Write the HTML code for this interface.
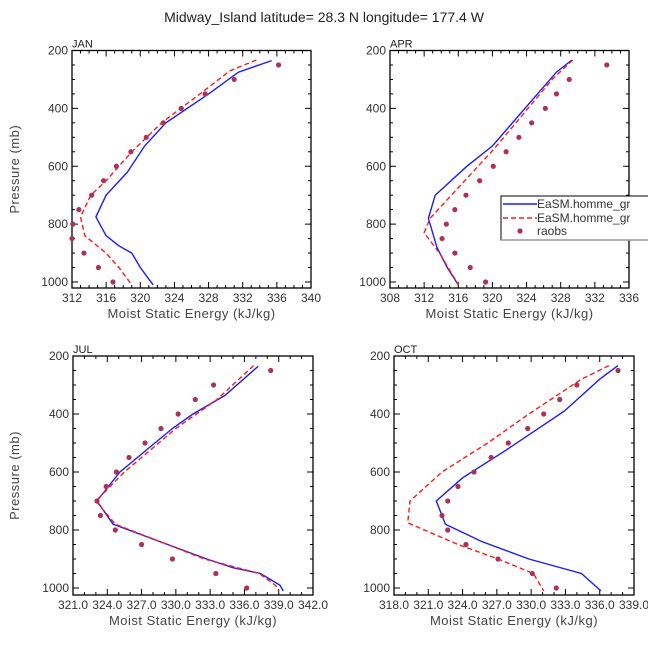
<!DOCTYPE html>
<html><head><meta charset="utf-8"><style>
body{margin:0;background:#fff;}
svg{display:block;font-family:"Liberation Sans",sans-serif;}
</style></head><body>
<svg id="chart" width="648" height="649" viewBox="0 0 648 649" xmlns="http://www.w3.org/2000/svg">
<text x="324" y="22" text-anchor="middle" font-size="14" fill="#222">Midway_Island  latitude= 28.3 N longitude= 177.4 W</text>
</svg>
<script>
const janBlueP=[235,275,350,450,530,620,700,775,840,875,900,950,1010];
const janBlueX=[335.4,331.5,328,323,320.5,318.5,316,314.8,316,317.5,319,320,321.5];
const janRedP=[233,270,350,450,550,650,700,775,840,900,950,1010];
const janRedX=[333.6,330.5,327,322.5,319,316,314.2,313,313.5,316,317.5,319];
const janObsP=[250,300,350,400,450,500,550,600,650,700,750,800,850,900,950,1000];
const janObsX=[336.2,331,327.6,324.8,322.7,320.7,318.9,317.2,315.7,314.3,312.8,312.1,312,313.4,315.1,316.8];
const aprBlueP=[233,275,380,530,600,700,780,880,950,1010];
const aprBlueX=[329.3,327.5,324.4,320,317,313.3,312.5,313.5,314.7,316];
const aprRedP=[233,300,540,780,830,900,970,1010];
const aprRedX=[329.4,327,320.2,312.7,312,313.8,315.2,316];
const aprObsP=[250,300,350,400,450,500,550,600,650,700,750,800,850,900,950,1000];
const aprObsX=[333.4,329,327.5,326.2,324.6,323.1,321.6,320.1,318.5,316.9,315.6,314.6,314.1,315.6,317.4,319.2];
const julBlueP=[236,336,400,450,600,700,780,900,930,950,990,1010];
const julBlueX=[337.2,334.3,331.5,329.7,325.1,323.1,324.5,332.7,335,337.4,339.1,339.4];
const julRedP=[233,350,450,600,700,780,900,950,990,1010];
const julRedX=[336.8,333.6,330,325.5,323,324.7,332.5,337.3,338.7,339];
const julObsP=[250,300,350,400,450,500,550,600,650,700,750,800,850,900,950,1000];
const julObsX=[338.3,333.3,331.7,330.2,328.7,327.3,325.9,324.8,323.9,323.1,323.4,324.7,327,329.7,333.5,336.2];
const octBlueP=[233,280,390,530,620,700,780,840,900,950,1010];
const octBlueX=[337.6,336,332.9,327.6,324,321.7,322.5,325.7,329.8,334.4,336.1];
const octRedP=[233,280,400,500,600,700,775,850,900,950,1010];
const octRedX=[336.8,334.4,329.8,326.2,322.2,319.4,319.2,323.6,327.1,330.2,331.1];
const octObsP=[250,300,350,400,450,500,550,600,650,700,750,800,850,900,950,1000];
const octObsX=[337.6,334,332.5,331.1,329.7,328,326.5,325,323.6,322.7,322.2,322.7,324.3,327.1,330.1,332.2];
const janTicks=["312","316","320","324","328","332","336","340"];
const aprTicks=["308","312","316","320","324","328","332","336"];
const julTicks=["321.0","324.0","327.0","330.0","333.0","336.0","339.0","342.0"];
const octTicks=["318.0","321.0","324.0","327.0","330.0","333.0","336.0","339.0"];
const pTicks=[200,400,600,800,1000];

const NS="http://www.w3.org/2000/svg";
const svg=document.getElementById('chart');
function mk(tag,attrs,parent){const e=document.createElementNS(NS,tag);for(const k in attrs)e.setAttribute(k,attrs[k]);(parent||svg).appendChild(e);return e;}

function panel(cfg){
  const g=mk('g',{});
  
  
  const L=cfg.L,R=cfg.R,T=cfg.T,B=cfg.B,y200=cfg.y200,y1000=cfg.y1000;
  const xs=v=>L+(v-cfg.xmin)/(cfg.xmax-cfg.xmin)*(R-L);
  const ys=p=>y200+(p-200)/800*(y1000-y200);
  // ticks
  const tk=mk('g',{stroke:'#000','stroke-width':1},g);
  
  
  for(let p=200;p<=1000;p+=50){
    const major=p%200===0,len=major?6:3,y=ys(p);
    mk('line',{x1:L,y1:y,x2:L+len,y2:y},tk);mk('line',{x1:R,y1:y,x2:R-len,y2:y},tk);
  }
  for(let v=cfg.xmin;v<=cfg.xmax+1e-6;v+=1){
    const major=Math.abs(((v-cfg.xmin)/cfg.xstep)-Math.round((v-cfg.xmin)/cfg.xstep))<1e-6,len=major?6:3,x=xs(v);
    mk('line',{x1:x,y1:B,x2:x,y2:B-len},tk);mk('line',{x1:x,y1:T,x2:x,y2:T+len},tk);
  }
  const fr=mk('rect',{x:L,y:T,width:R-L,height:B-T,fill:'none',stroke:'#000','stroke-width':1.3},g);
  
  
  cfg.xticks.forEach((t,i)=>{
    const e=mk('text',{x:xs(cfg.xmin+i*cfg.xstep),y:B+14,'text-anchor':'middle','font-size':12,fill:'#333'},g);
    e.textContent=t;
    
    
  });
  pTicks.forEach(p=>{
    const e=mk('text',{x:L-4,y:ys(p)+4,'text-anchor':'end','font-size':12,fill:'#333'},g);
    e.textContent=p;
    
    
  });
  const xt=mk('text',{x:(L+R)/2,y:B+30,'text-anchor':'middle','font-size':13,fill:'#444','letter-spacing':'0.5'},g);
  xt.textContent='Moist Static Energy (kJ/kg)';
  
  
  if(cfg.ylab){
    const yt=mk('text',{x:0,y:0,transform:`translate(19,${(T+B)/2}) rotate(-90)`,'text-anchor':'middle','font-size':13,fill:'#444','letter-spacing':'0.5'},g);
    yt.textContent='Pressure (mb)';
    
    
  }
  const mt=mk('text',{x:L,y:T-3,'font-size':11,fill:'#222'},g);
  mt.textContent=cfg.label;
  
  
  const pts=(P,X)=>P.map((p,i)=>xs(X[i]).toFixed(1)+','+ys(p).toFixed(1)).join(' ');
  const bl=mk('polyline',{points:pts(cfg.bp,cfg.bx),fill:'none',stroke:'#1a1aff','stroke-width':1.4},g);
  
  
  const rl=mk('polyline',{points:pts(cfg.rp,cfg.rx),fill:'none',stroke:'#ff1a1a','stroke-width':1.4,'stroke-dasharray':'5,3'},g);
  
  
  cfg.op.forEach((p,i)=>{
    const c=mk('circle',{cx:xs(cfg.ox[i]),cy:ys(p),r:2.6,fill:'#a8325a'},g);
    
    
  });
}
const topY={T:50.5,B:288,y200:50.5,y1000:282};
const botY={T:356,B:595,y200:356,y1000:588};
panel(Object.assign({name:'jan',label:'JAN',L:72,R:311,xmin:312,xmax:340,xstep:4,xticks:janTicks,ylab:true,bp:janBlueP,bx:janBlueX,rp:janRedP,rx:janRedX,op:janObsP,ox:janObsX},topY));
panel(Object.assign({name:'apr',label:'APR',L:390,R:629,xmin:308,xmax:336,xstep:4,xticks:aprTicks,ylab:false,bp:aprBlueP,bx:aprBlueX,rp:aprRedP,rx:aprRedX,op:aprObsP,ox:aprObsX},topY));
panel(Object.assign({name:'jul',label:'JUL',L:73,R:313,xmin:321,xmax:342,xstep:3,xticks:julTicks,ylab:true,bp:julBlueP,bx:julBlueX,rp:julRedP,rx:julRedX,op:julObsP,ox:julObsX},botY));
panel(Object.assign({name:'oct',label:'OCT',L:394,R:634,xmin:318,xmax:339,xstep:3,xticks:octTicks,ylab:false,bp:octBlueP,bx:octBlueX,rp:octRedP,rx:octRedX,op:octObsP,ox:octObsX},botY));

// legend
const lg=mk('g',{});


mk('rect',{x:501,y:196,width:160,height:44,fill:'#fff',stroke:'#000','stroke-width':1},lg);
mk('line',{x1:501,y1:240,x2:648,y2:240,stroke:'#999','stroke-width':1.5},lg);
const l1=mk('line',{x1:503,y1:204,x2:537,y2:204,stroke:'#1a1aff','stroke-width':1.4},lg);


const l2=mk('line',{x1:503,y1:218,x2:537,y2:218,stroke:'#ff1a1a','stroke-width':1.4,'stroke-dasharray':'5,3'},lg);


const l3=mk('circle',{cx:520,cy:231,r:2.6,fill:'#a8325a'},lg);


[['EaSM.homme_gr',208],['EaSM.homme_gr',222],['raobs',235]].forEach(([t,y])=>{
  const e=mk('text',{x:537,y:y,'font-size':12,fill:'#333'},lg);
  e.textContent=t;
  
  
});
</script>
</body></html>
